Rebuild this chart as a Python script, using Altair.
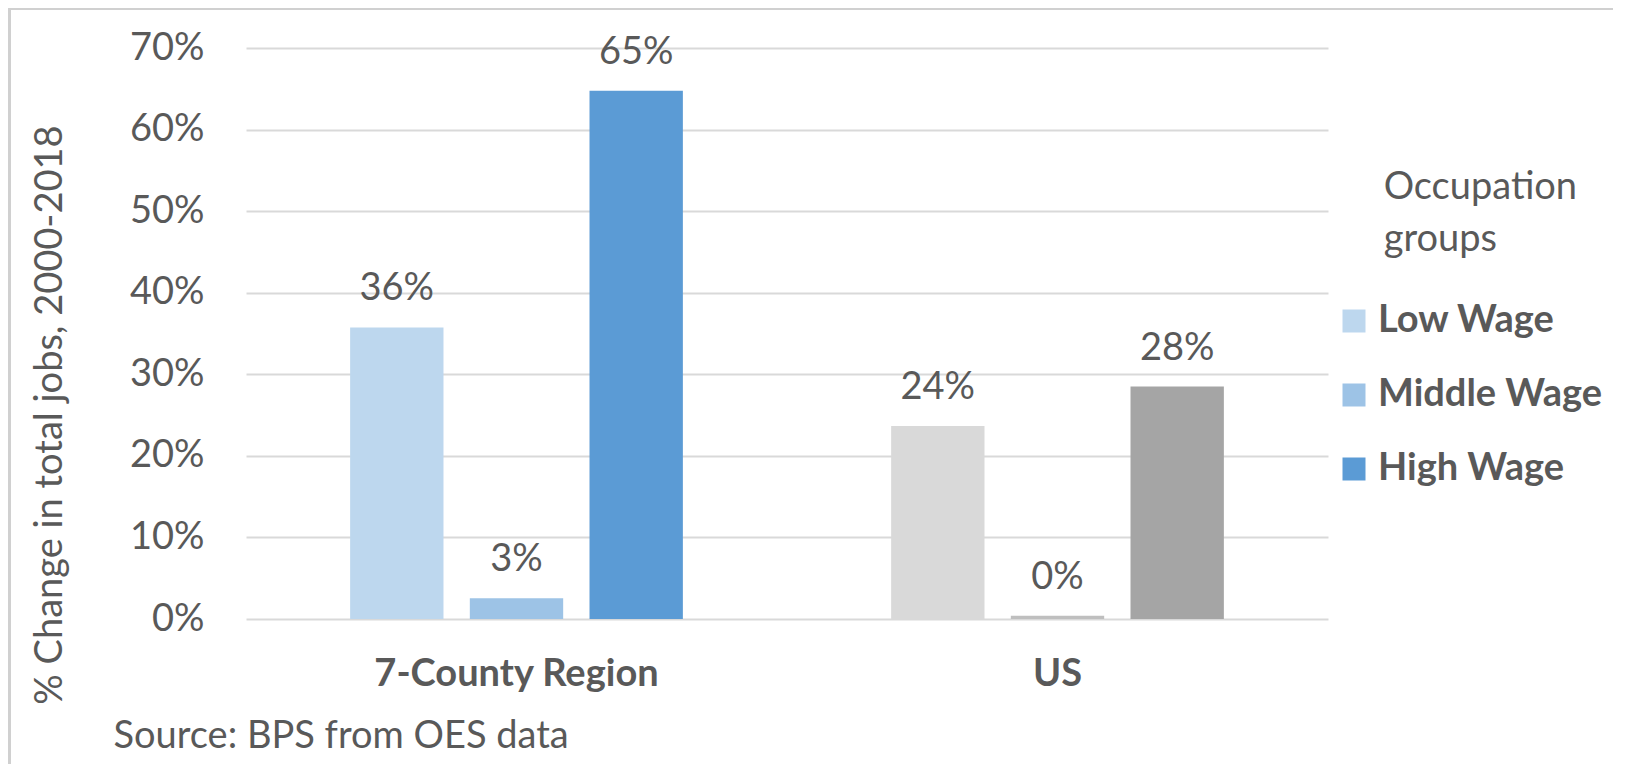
import altair as alt
import pandas as pd

# ---- data ----
regions = ["7-County Region", "US"]
groups = ["Low Wage", "Middle Wage", "High Wage"]
region_values = [35.75, 2.55, 64.75]
us_values = [23.66, 0.39, 28.5]
y_ticks = [0, 10, 20, 30, 40, 50, 60, 70]

region_colors = ["#BDD7EE", "#9DC3E6", "#5B9BD5"]
us_colors = ["#D9D9D9", "#BFBFBF", "#A5A5A5"]

rows = []
for g, v in zip(groups, region_values):
    rows.append({"region": regions[0], "group": g, "value": v, "key": g})
for g, v in zip(groups, us_values):
    rows.append({"region": regions[1], "group": g, "value": v, "key": "US " + g})
df = pd.DataFrame(rows)
df["label"] = df["value"].round(0).astype(int).astype(str) + "%"

key_domain = groups + ["US " + g for g in groups]
key_range = region_colors + us_colors

FONT = "Lato"
TXT = "#595959"
FS = 38
INDENT = "\u200b" + "\u00a0" * 5

x_enc = alt.X(
    "region:N",
    sort=regions,
    scale=alt.Scale(paddingInner=0, paddingOuter=0),
    axis=alt.Axis(
        title="Source: BPS from OES data",
        labelAngle=0,
        labelFont=FONT,
        labelFontSize=FS,
        labelFontWeight="bold",
        labelColor=TXT,
        labelBaseline="alphabetic",
        labelPadding=66,
        labelLimit=600,
        ticks=False,
        domain=False,
        titleFont=FONT,
        titleFontSize=FS,
        titleFontWeight="normal",
        titleColor=TXT,
        titleX=-133,
        titleY=128.5,
        titleAlign="left",
        titleAnchor="start",
        titleBaseline="alphabetic",
        titleLimit=800,
    ),
)
xoff_enc = alt.XOffset(
    "group:N", sort=groups, scale=alt.Scale(paddingInner=0.22, paddingOuter=0.87)
)
y_enc = alt.Y(
    "value:Q",
    scale=alt.Scale(domain=[0, 70], nice=False),
    axis=alt.Axis(
        title="% Change in total jobs, 2000-2018",
        values=y_ticks,
        labelExpr="datum.value + '%'",
        labelFont=FONT,
        labelFontSize=FS,
        labelColor=TXT,
        labelPadding=42,
        labelBaseline="middle",
        ticks=False,
        domain=False,
        grid=True,
        gridColor="#D9D9D9",
        gridWidth=2,
        titleFont=FONT,
        titleFontSize=FS,
        titleFontWeight="normal",
        titleColor=TXT,
        titleX=-185,
        titleY=366.5,
        titleAlign="center",
        titleBaseline="alphabetic",
        titleLimit=800,
    ),
)

bars = alt.Chart(df).mark_bar().encode(
    x=x_enc,
    xOffset=xoff_enc,
    y=y_enc,
    color=alt.Color(
        "key:N",
        scale=alt.Scale(domain=key_domain, range=key_range),
        legend=alt.Legend(
            title=[INDENT + "Occupation", INDENT + "groups"],
            values=groups,
            orient="none",
            legendX=1089,
            legendY=121,
            titleFont=FONT,
            titleFontSize=FS,
            titleFontWeight="normal",
            titleColor=TXT,
            titleLineHeight=52,
            titlePadding=43,
            titleLimit=500,
            labelFont=FONT,
            labelFontSize=FS,
            labelFontWeight="bold",
            labelColor=TXT,
            labelLimit=500,
            symbolType="square",
            symbolSize=529,
            symbolStrokeWidth=0,
            labelOffset=5,
            rowPadding=36,
        ),
    ),
)

labels = alt.Chart(df).mark_text(
    dy=-27, baseline="alphabetic", font=FONT, fontSize=FS, color=TXT
).encode(x=x_enc, xOffset=xoff_enc, y=y_enc, text="label:N")

frame = alt.Chart(df).mark_rect(
    fill=None, stroke="#D0D0D0", strokeWidth=2
).encode(
    x=alt.value(-236.5), y=alt.value(-39.5), x2=alt.value(2000), y2=alt.value(2000)
)

chart = (
    alt.layer(frame, bars, labels)
    .properties(
        width=1082,
        height=571,
        autosize=alt.AutoSizeParams(type="none"),
        padding={"left": 238, "top": 40, "right": 285, "bottom": 145},
    )
    .configure_view(stroke=None)
)

chart.save("out.html", embed_options={"renderer": "svg", "actions": False})
